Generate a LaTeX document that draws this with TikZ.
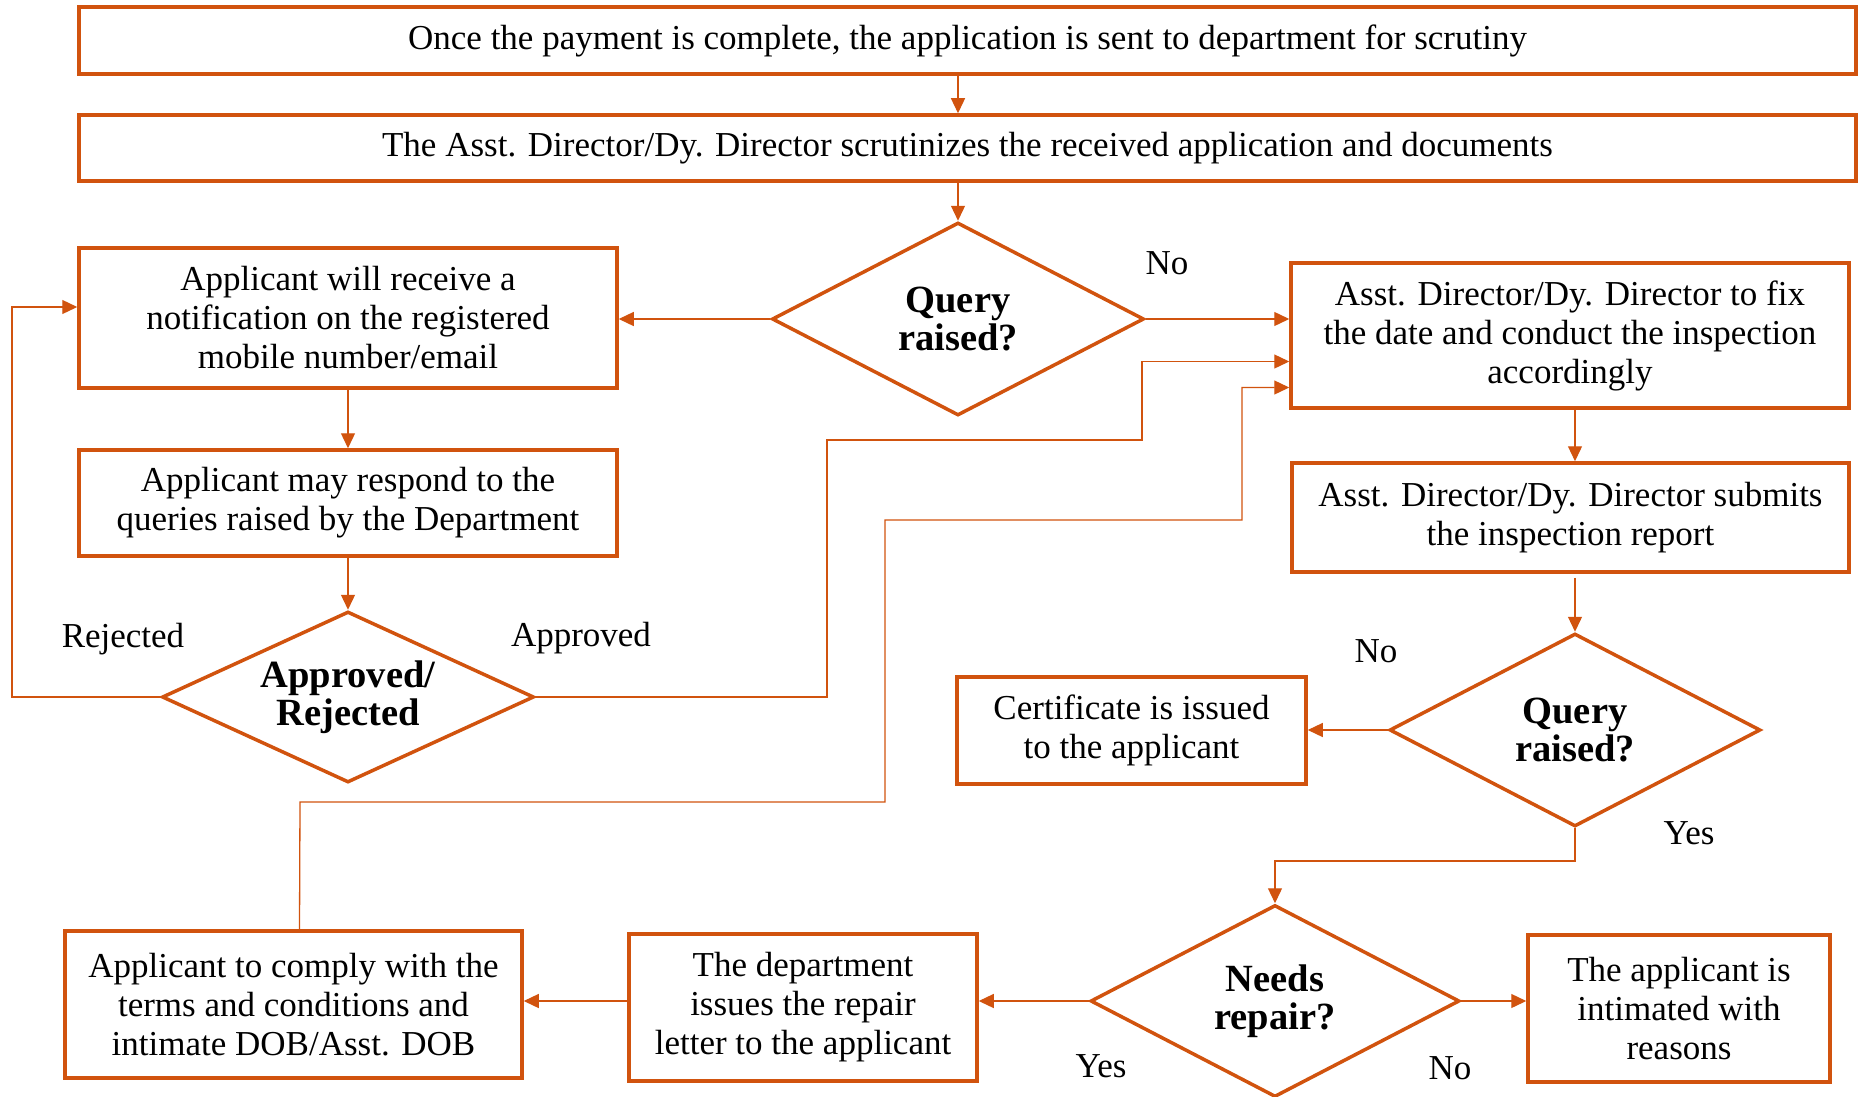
\documentclass[tikz,border=0pt]{standalone}
\usepackage{fontspec}
\setmainfont{Liberation Serif}
\usepackage{tikz}
\usetikzlibrary{shapes.geometric}
\usetikzlibrary{arrows.meta}
\definecolor{flow}{RGB}{209,83,14}

\begin{document}
\begin{tikzpicture}[x=1pt, y=-1pt,
	box/.style={draw=flow, line width=3.5pt, align=center, inner sep=0pt, font=\fontsize{35pt}{39pt}\selectfont},
	decision/.style={diamond, aspect=2, draw=flow, line width=3.5pt, align=center, inner sep=0pt, font=\fontsize{38.5pt}{38pt}\selectfont\bfseries},
	link/.style={draw=flow, line width=1.3pt, -{Triangle[length=15pt, width=14pt]}},
	tag/.style={font=\fontsize{35pt}{38pt}\selectfont}]
			\useasboundingbox (0,0) rectangle (1860,1097);

			\node[box, minimum width=1777pt, minimum height=67pt] (paid) at (967.5,40.5){Once the payment is complete, the application is sent to department for scrutiny};
			\node[box, minimum width=1777pt, minimum height=66pt] (scrutiny) at (967.5,148){The Asst. Director/Dy. Director scrutinizes the received application and documents};
			\node[decision, minimum width=372pt, minimum height=193pt] (query1) at (958,319){Query\\raised?};
			\node[box, minimum width=538pt, minimum height=140pt] (notify) at (348,318){Applicant will receive a\\notification on the registered\\mobile number/email};
			\node[box, minimum width=558pt, minimum height=145pt] (inspect) at (1570,335.5){Asst. Director/Dy. Director to fix\\the date and conduct the inspection\\accordingly};
			\node[box, minimum width=538pt, minimum height=106pt] (respond) at (348,503){Applicant may respond to the\\queries raised by the Department};
			\node[decision, aspect=2.2, minimum width=372pt, minimum height=171pt] (verdict) at (348,697){Approved/\\Rejected};
			\node[box, minimum width=557pt, minimum height=109pt] (report) at (1570.5,517.5){Asst. Director/Dy. Director submits\\the inspection report};
			\node[decision, minimum width=371pt, minimum height=193pt] (query2) at (1575,730){Query\\raised?};
			\node[box, minimum width=349pt, minimum height=107pt] (cert) at (1131.5,730.5){Certificate is issued\\to the applicant};
			\node[decision, minimum width=369pt, minimum height=192pt] (repair) at (1275,1001){Needs\\repair?};
			\node[box, minimum width=302pt, minimum height=147pt] (reasons) at (1679,1008.5){The applicant is\\intimated with\\reasons};
			\node[box, minimum width=348pt, minimum height=147pt] (letter) at (803,1007.5){The department\\issues the repair\\letter to the applicant};
			\node[box, minimum width=457pt, minimum height=147pt] (comply) at (293.5,1004.5){Applicant to comply with the\\terms and conditions and\\intimate DOB/Asst. DOB};

			\node[tag] (no1) at (1167,263){No};
			\node[tag] (rejected) at (123,639){Rejected};
			\node[tag] (approved) at (581,638){Approved};
			\node[tag] (no2) at (1376,651){No};
			\node[tag] (yes1) at (1689,833){Yes};
			\node[tag] (yes2) at (1101,1066){Yes};
			\node[tag] (no3) at (1450,1068){No};

			\draw[link] (query1.north |- paid.south)--(query1.north |- scrutiny.north);
			\draw[link] (query1.north |- scrutiny.south)--(query1.north);
			\draw[link] (query1.west)--(query1.west -| notify.east);
			\draw[link] (query1.east)--(query1.east -| inspect.west);
			\draw[link] (notify.south)--(respond.north);
			\draw[link] (respond.south)--(verdict.north);
			\draw[link] (verdict.west)--(12,697)|-([yshift=11pt]notify.west);
			\draw[link] (verdict.east)--(827,697)--(827,440)--(1142,440)|-([yshift=-26pt]inspect.west);
			\draw[link] ([xshift=6pt]comply.north)--(300,802)--(885,802)--(885,520)--(1242,520)|-([yshift=-52pt]inspect.west);
			\draw[link] (query2.north |- inspect.south)--(query2.north |- report.north);
			\draw[link] ([yshift=-4pt]query2.north |- report.south)--(query2.north);
			\draw[link] (query2.west)--(query2.west -| cert.east);
			\draw[link] (query2.south)--(1575,861)-|(repair.north);
			\draw[link] (repair.east)--(repair.east -| reasons.west);
			\draw[link] (repair.west)--(repair.west -| letter.east);
			\draw[link] (letter.west |- repair.west)--(comply.east |- repair.west);
		\end{tikzpicture}
\end{document}
